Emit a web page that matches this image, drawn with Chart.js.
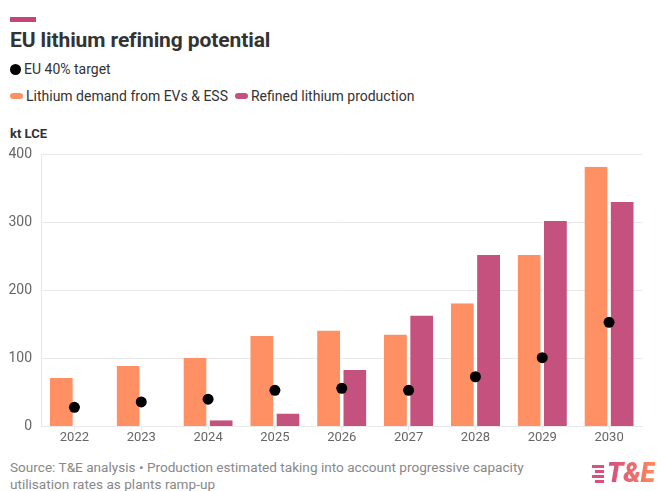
<!doctype html>
<html lang="en">
<head>
<meta charset="utf-8">
<title>EU lithium refining potential</title>
<script src="https://cdn.jsdelivr.net/npm/chart.js@4.4.4/dist/chart.umd.min.js"></script>
<style>
  body { margin: 0; width: 669px; height: 491px; background: #fff; font-family: Roboto, "Noto Sans", sans-serif; position: relative; overflow: hidden; }
  .accent { position: absolute; left: 10px; top: 17px; width: 26px; height: 5px; background: #c5457a; }
  h1 { position: absolute; left: 10px; top: 28px; margin: 0; font-size: 21px; font-weight: 700; color: #333; letter-spacing: -0.1px; }
  .legend { position: absolute; left: 10px; font-size: 14px; color: #333; display: flex; align-items: center; white-space: nowrap; }
  .dot { width: 11px; height: 11px; border-radius: 50%; background: #000; margin-right: 3px; }
  .pill { width: 13px; height: 6px; border-radius: 3px; margin-right: 3px; }
  .unit { position: absolute; left: 10px; top: 126px; font-size: 13px; font-weight: 700; color: #333; }
  .wrap { position: absolute; left: 0; top: 137px; width: 648px; height: 309px; }
  .note { position: absolute; left: 10px; top: 459px; width: 560px; font-size: 13.6px; line-height: 17px; color: #888; }
  .logo { position: absolute; left: 592px; top: 460px; display: flex; align-items: center; }
  .stripes { display: flex; flex-direction: column; gap: 2px; margin-right: 3px; }
  .stripes span { display: block; height: 3px; background: #d9507f; }
  .te { font-size: 27px; font-weight: 900; font-style: italic; letter-spacing: -0.3px; line-height: 27px;
        background: linear-gradient(90deg, #d44a80, #ff8a5c); -webkit-background-clip: text; background-clip: text; color: transparent; }
</style>
</head>
<body>
<div class="accent"></div>
<h1>EU lithium refining potential</h1>
<div class="legend" style="top:61px"><span class="dot"></span>EU 40% target</div>
<div class="legend" style="top:88px">
  <span class="pill" style="background:#ff9064"></span>Lithium demand from EVs &amp; ESS
  <span class="pill" style="background:#c5517f;margin-left:7px"></span>Refined lithium production
</div>
<div class="unit">kt LCE</div>
<div class="wrap"><canvas id="chart"></canvas></div>
<div class="note">Source: T&amp;E analysis • Production estimated taking into account progressive capacity utilisation rates as plants ramp-up</div>
<div class="logo">
  <div class="stripes"><span style="width:12px"></span><span style="width:9px;margin-left:3px"></span><span style="width:12px"></span><span style="width:9px;margin-left:3px"></span></div>
  <span class="te">T&amp;E</span>
</div>
<script>
const years = ["2022", "2023", "2024", "2025", "2026", "2027", "2028", "2029", "2030"];
const demand = [71, 89, 101, 133, 141, 135, 181, 252, 382];
const production = [null, null, 9, 19, 83, 163, 252, 302, 330];
const target = [28, 36, 40, 53, 56, 53, 73, 101, 153];
const yTicks = [0, 100, 200, 300, 400];

const GRID = "#e8e8e8";

new Chart(document.getElementById("chart"), {
  data: {
    labels: years,
    datasets: [
      {
        type: "line", label: "EU 40% target", data: target,
        showLine: false, pointRadius: 5.5, pointHoverRadius: 5.5,
        pointBackgroundColor: "#000", pointBorderWidth: 0, order: 0,
      },
      {
        type: "bar", label: "Lithium demand from EVs & ESS", data: demand,
        backgroundColor: "#ff9064", borderColor: "#fff", borderWidth: { right: 1 },
        barPercentage: 0.94, categoryPercentage: 0.76, order: 1,
      },
      {
        type: "bar", label: "Refined lithium production", data: production,
        backgroundColor: "#c5517f", borderColor: "#fff", borderWidth: { left: 1 },
        barPercentage: 0.94, categoryPercentage: 0.76, order: 1,
      },
    ],
  },
  options: {
    responsive: true, maintainAspectRatio: false, animation: false,
    layout: { padding: { top: 8, right: 0, left: 0, bottom: 0 } },
    scales: {
      x: {
        // small tick marks under each year, none across the plot
        grid: { offset: false, drawOnChartArea: false, drawTicks: true, tickLength: 4, color: GRID },
        border: { color: GRID },
        ticks: { color: "#666", font: { family: "Roboto", size: 13 }, padding: 0 },
      },
      y: {
        min: 0, max: 400,
        afterBuildTicks: (s) => { s.ticks = yTicks.map((v) => ({ value: v })); },
        afterFit: (s) => { s.width = 41; },
        grid: { color: GRID, drawTicks: false },
        border: { color: GRID },
        ticks: { color: "#666", font: { family: "Roboto", size: 14 }, padding: 9 },
      },
    },
    plugins: { legend: { display: false }, tooltip: { enabled: false } },
  },
});
</script>
</body>
</html>
